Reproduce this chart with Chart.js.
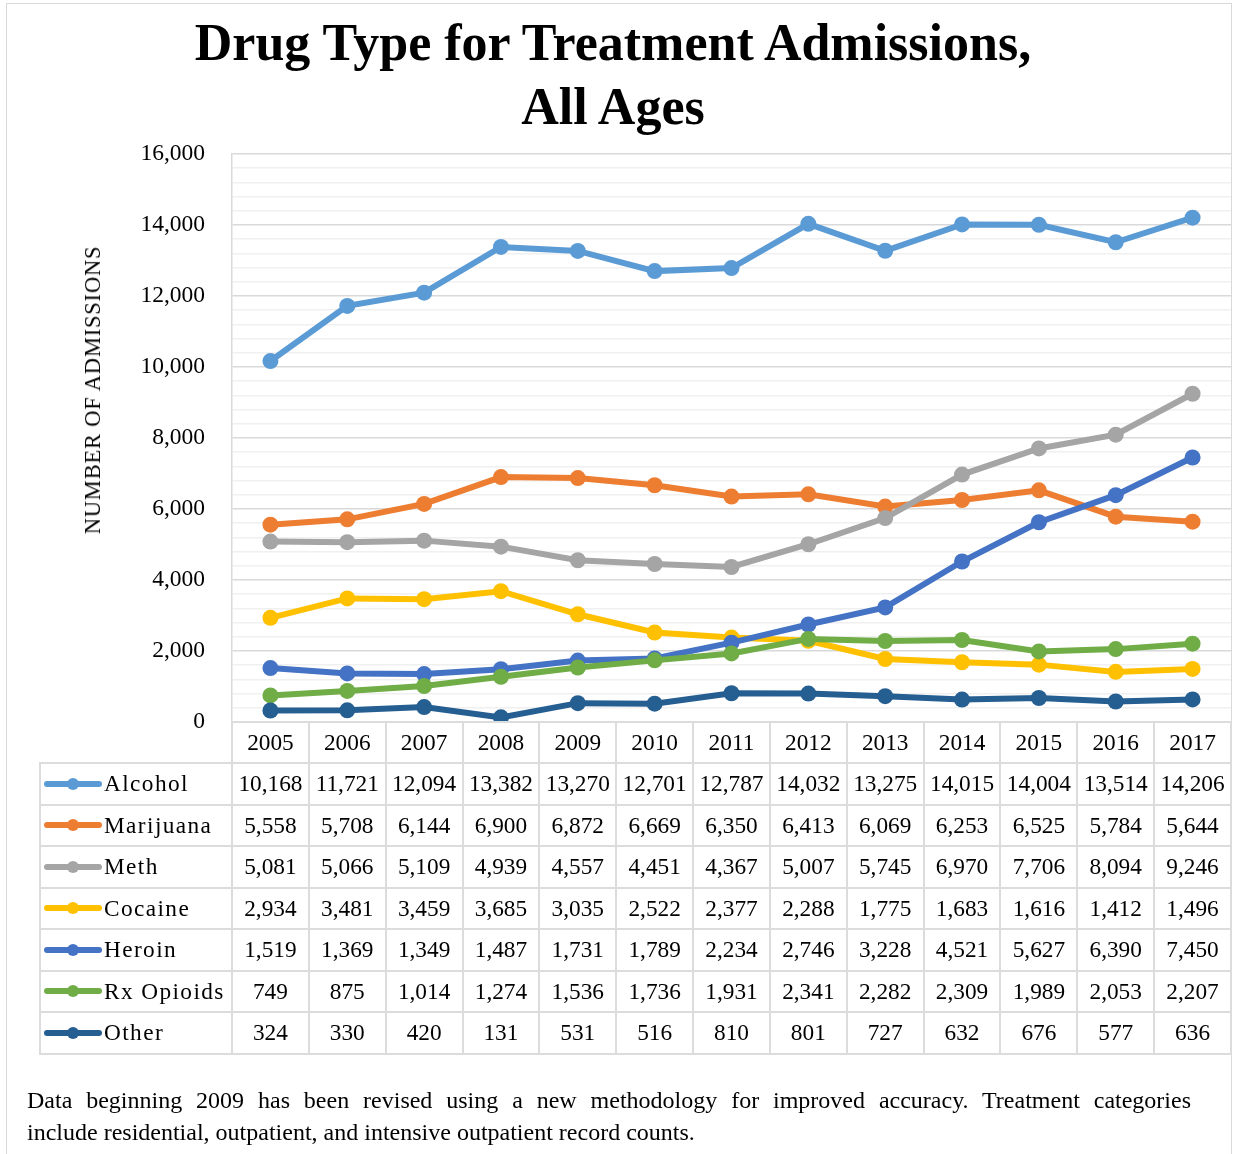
<!DOCTYPE html>
<html><head><meta charset="utf-8">
<script src="https://cdn.jsdelivr.net/npm/chart.js@4.4.0/dist/chart.umd.min.js"></script>
<style>
html,body{margin:0;padding:0;background:#fff;}
#wrap{position:relative;width:1233px;height:1154px;overflow:hidden;font-family:"Liberation Serif",serif;color:#000;}
#frame{position:absolute;left:6px;top:3px;width:1226px;height:1200px;border:1.5px solid #d9d9d9;box-sizing:border-box;}
#c{position:absolute;left:0;top:0;}
#title{position:absolute;left:0;top:11px;width:1226px;text-align:center;font-weight:bold;font-size:52px;line-height:64px;}
#ytitle{position:absolute;left:93px;top:390px;transform:translate(-50%,-50%) rotate(-90deg);font-size:22.5px;letter-spacing:0.8px;white-space:nowrap;}
#table{position:absolute;left:0;top:0;}
.cell{position:absolute;box-sizing:border-box;border:2px solid #dcdcdc;display:flex;align-items:center;justify-content:center;font-size:23.3px;white-space:nowrap;}
.lab{justify-content:flex-start;padding-left:3px;}
.lab span.t{letter-spacing:1.4px;}
.mk{position:relative;width:58px;height:6px;border-radius:3px;margin-right:2px;flex:none;}
.mk::after{content:"";position:absolute;left:23px;top:-3px;width:12px;height:12px;border-radius:6px;background:inherit;}
#note{position:absolute;left:27px;top:1084px;width:1164px;font-size:24px;line-height:32px;}
#note .l1{text-align:justify;text-align-last:justify;}
</style></head>
<body>
<div id="wrap">
  <div id="frame"></div>
  <canvas id="c" width="1233" height="1154"></canvas>
  <div id="title">Drug Type for Treatment Admissions,<br>All Ages</div>
  <div id="ytitle">NUMBER OF ADMISSIONS</div>
  <div id="table"></div>
  <div id="note"><div class="l1">Data beginning 2009 has been revised using a new methodology for improved accuracy. Treatment categories</div><div>include residential, outpatient, and intensive outpatient record counts.</div></div>
</div>
<script>
const years = ['2005','2006','2007','2008','2009','2010','2011','2012','2013','2014','2015','2016','2017'];
const alcohol   = [10168,11721,12094,13382,13270,12701,12787,14032,13275,14015,14004,13514,14206];
const marijuana = [5558,5708,6144,6900,6872,6669,6350,6413,6069,6253,6525,5784,5644];
const meth      = [5081,5066,5109,4939,4557,4451,4367,5007,5745,6970,7706,8094,9246];
const cocaine   = [2934,3481,3459,3685,3035,2522,2377,2288,1775,1683,1616,1412,1496];
const heroin    = [1519,1369,1349,1487,1731,1789,2234,2746,3228,4521,5627,6390,7450];
const rxOpioids = [749,875,1014,1274,1536,1736,1931,2341,2282,2309,1989,2053,2207];
const other     = [324,330,420,131,531,516,810,801,727,632,676,577,636];
const seriesNames = ['Alcohol','Marijuana','Meth','Cocaine','Heroin','Rx Opioids','Other'];
const seriesValues = [alcohol, marijuana, meth, cocaine, heroin, rxOpioids, other];
const seriesColors = ['#5B9BD5','#ED7D31','#A5A5A5','#FFC000','#4472C4','#70AD47','#255E91'];
const yMin = 0, yMax = 16000, yMajor = 2000, yMinor = 400;

const fmt = v => v.toLocaleString('en-US');

const datasets = seriesNames.map((n, i) => ({
  label: n,
  data: seriesValues[i],
  borderColor: seriesColors[i],
  backgroundColor: seriesColors[i],
  pointBackgroundColor: seriesColors[i],
  pointBorderWidth: 0,
  pointRadius: 8,
  borderWidth: 6,
  tension: 0,
  order: seriesNames.length - i
}));

let built = false;
const tablePlugin = {
  id: 'tablePlugin',
  afterDraw(chart) {
    if (built) return;
    built = true;
    const xs = chart.scales.x;
    const area = chart.chartArea;
    const step = xs.getPixelForValue(1) - xs.getPixelForValue(0);
    const t = document.getElementById('table');
    const top0 = area.bottom;
    const headH = 41;
    const rowH = 41.5;
    const legLeft = 40;
    const mk = (x0, y0, x1, y1, html, cls) => {
      const d = document.createElement('div');
      d.className = 'cell' + (cls ? ' ' + cls : '');
      d.style.left = (x0 - 1) + 'px';
      d.style.top = (y0 - 1) + 'px';
      d.style.width = (x1 - x0 + 2) + 'px';
      d.style.height = (y1 - y0 + 2) + 'px';
      d.innerHTML = html;
      t.appendChild(d);
    };
    years.forEach((y, i) => {
      const cx = xs.getPixelForValue(i);
      mk(cx - step / 2, top0, cx + step / 2, top0 + headH, y);
    });
    seriesNames.forEach((n, r) => {
      const y0 = top0 + headH + r * rowH, y1 = y0 + rowH;
      mk(legLeft, y0, area.left, y1,
        '<span class="mk" style="background:' + seriesColors[r] + '"></span><span class="t">' + n + '</span>', 'lab');
      seriesValues[r].forEach((v, i) => {
        const cx = xs.getPixelForValue(i);
        mk(cx - step / 2, y0, cx + step / 2, y1, fmt(v));
      });
    });
  }
};

new Chart(document.getElementById('c'), {
  type: 'line',
  data: { labels: years, datasets },
  plugins: [tablePlugin],
  options: {
    responsive: false,
    maintainAspectRatio: false,
    animation: false,
    layout: { autoPadding: false, padding: { left: 0, top: 154, right: 2, bottom: 432 } },
    plugins: { legend: { display: false }, tooltip: { enabled: false }, title: { display: false } },
    scales: {
      x: {
        type: 'category',
        offset: true,
        grid: { display: false, drawTicks: false },
        border: { display: true, color: '#d9d9d9', width: 1.5 },
        ticks: { display: false },
        afterFit(s) { s.height = 0; }
      },
      y: {
        min: yMin, max: yMax,
        grid: {
          drawTicks: false,
          color: c => (c.tick && c.tick.value % yMajor === 0) ? '#d9d9d9' : '#f0f0f0',
          lineWidth: 1.5
        },
        border: { display: true, color: '#d9d9d9', width: 1.5 },
        ticks: {
          stepSize: yMinor,
          autoSkip: false,
          maxTicksLimit: 100,
          padding: 27,
          color: '#000',
          font: { family: '"Liberation Serif", serif', size: 23.5 },
          callback: v => (v % yMajor === 0) ? fmt(v) : ''
        },
        afterFit(s) { s.width = 232; }
      }
    }
  }
});
</script>
</body></html>
